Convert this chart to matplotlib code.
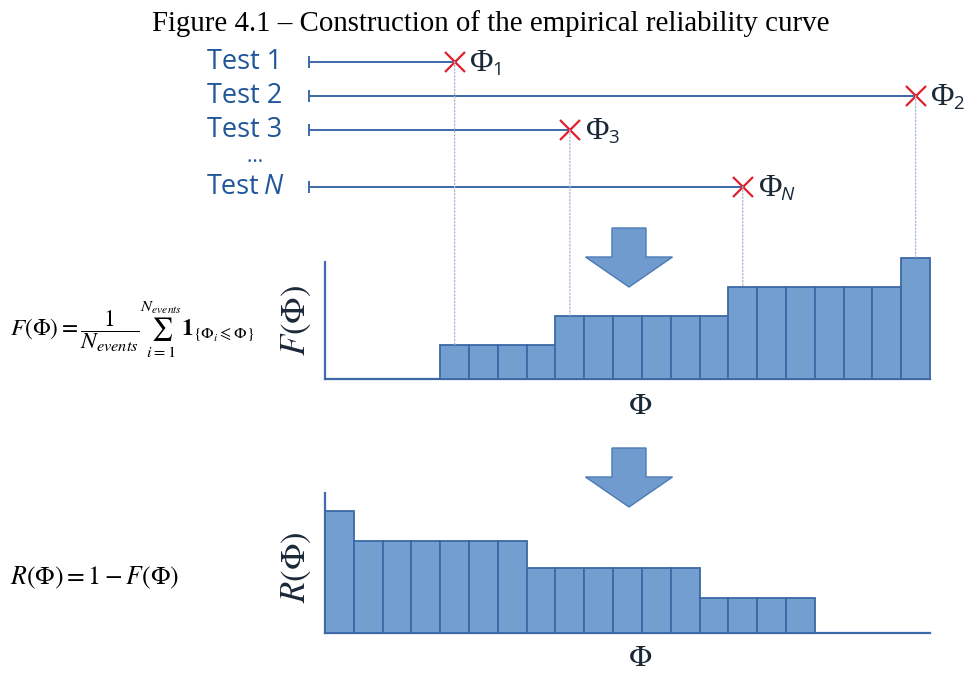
import matplotlib
matplotlib.use("Agg")
import matplotlib.pyplot as plt
from matplotlib.patches import FancyArrow, ConnectionPatch

plt.rcParams['mathtext.fontset'] = 'stix'

# ---- data -------------------------------------------------------------
test_labels = ["Test 1", "Test 2", "Test 3", "Test N"]
phi_subscripts = ["1", "2", "3", "N"]
phi_events = [4.5, 20.5, 8.5, 14.5]          # failure point of each test (bin units)
phi_levels = [0.28, 1.0, 0.52, 0.76]         # F value reached at each failure point

F_values = [0.0] * 4 + [0.28] * 4 + [0.52] * 6 + [0.76] * 6 + [1.0] * 1
R_values = [1.0] * 1 + [0.76] * 6 + [0.53] * 6 + [0.29] * 4 + [0.0] * 4

# ---- style ------------------------------------------------------------
W, H = 971, 673
BAR_FACE = "#729FCF"
BAR_EDGE = "#3C68A6"
AXIS_COL = "#3F6DB0"
TEXT_BLUE = "#1F5699"
LINE_BLUE = "#3E68A8"
CROSS_RED = "#E0202E"
DARK = "#1B2838"

fig = plt.figure(figsize=(W / 100, H / 100), dpi=100)


def px_axes(left, top, right, bottom):
    return fig.add_axes([left / W, 1 - bottom / H, (right - left) / W, (bottom - top) / H])


# overlay in pixel coordinates for annotations and arrows
ov = fig.add_axes([0, 0, 1, 1], zorder=0)
ov.set_xlim(0, W)
ov.set_ylim(H, 0)
ov.axis("off")


def draw_bars(ax, values, ytop):
    n = len(values)
    ax.bar(range(n), values, width=1.0, align="edge", color=BAR_FACE,
           edgecolor=BAR_EDGE, linewidth=1.3, clip_on=False, zorder=3)
    ax.set_xlim(0, n)
    ax.set_ylim(0, ytop)
    for s in ("top", "right"):
        ax.spines[s].set_visible(False)
    for s in ("left", "bottom"):
        ax.spines[s].set_color(AXIS_COL)
        ax.spines[s].set_linewidth(1.6)
    ax.set_xticks([])
    ax.set_yticks([])
    ax.patch.set_alpha(0)


# F(Phi) staircase
axF = px_axes(325, 262, 930, 379)
draw_bars(axF, F_values, 117 / 121)

# R(Phi) staircase
axR = px_axes(325, 493, 930, 633)
draw_bars(axR, R_values, 140 / 121.7)

# test timelines share the Phi scale of the F axes
axT = px_axes(325, 40, 930, 200)
axT.set_xlim(0, len(F_values))
axT.set_ylim(200, 40)
axT.axis("off")
axT.patch.set_alpha(0)

row_y = [61.7, 96.0, 130.0, 186.7]
x_start = -0.55
for lab, sub, phi, lvl, y in zip(test_labels, phi_subscripts, phi_events, phi_levels, row_y):
    axT.plot([x_start, phi], [y, y], color=LINE_BLUE, lw=1.4, clip_on=False, zorder=2)
    axT.plot([x_start], [y], marker="|", ms=8, mew=1.4, color=LINE_BLUE, clip_on=False, zorder=2)
    # dotted guide down to the step in F
    con = ConnectionPatch(xyA=(phi, y), coordsA=axT.transData,
                          xyB=(phi, lvl), coordsB=axF.transData,
                          color="#A9BDD6", lw=1.0, linestyle=(0, (1, 1.5)), zorder=1)
    fig.add_artist(con)
    axT.plot([phi], [y], marker="x", ms=14, mew=1.6, color=CROSS_RED, clip_on=False, zorder=4)
    t = axT.text(phi + 0.55, y + 1.8, "\u03A6", fontsize=23, family="Liberation Serif",
                 color=DARK, ha="left", va="center", clip_on=False)
    axT.annotate(sub, xy=(1.0, 0.0), xycoords=t, xytext=(-1.0, -0.5), textcoords="offset points",
                 fontsize=13.5, family="Open Sans", color=DARK, ha="left", va="bottom",
                 style="italic" if sub == "N" else "normal", annotation_clip=False)

    # row label on the left
    if lab.endswith("N"):
        ov.text(207, y, "Test", fontsize=19.5, family="Open Sans", color=TEXT_BLUE,
                ha="left", va="center")
        ov.text(264, y, "N", fontsize=19.5, family="Open Sans", style="italic",
                color=TEXT_BLUE, ha="left", va="center")
    else:
        ov.text(207, y, lab, fontsize=19.5, family="Open Sans", color=TEXT_BLUE,
                ha="left", va="center")

ov.text(255, 156, "\u2026", fontsize=15, family="Open Sans", color=TEXT_BLUE,
        ha="center", va="center")

# title
ov.text(491, 24, "Figure 4.1 \u2013 Construction of the empirical reliability curve",
        fontsize=20.8, family="Liberation Serif", color="black", ha="center", va="center")

# block arrows between stages
for y0 in (228, 448):
    ov.add_patch(FancyArrow(629, y0, 0, 59, width=34, head_width=87, head_length=30,
                            length_includes_head=True, facecolor="#6F9BCF",
                            edgecolor="#4D7AB5", lw=1.0, zorder=5))

# axis labels
ov.text(296, 320, r"$F(\Phi)$", fontsize=25, color=DARK, rotation=90,
        ha="center", va="center")
ov.text(296, 567, r"$R(\Phi)$", fontsize=25, color=DARK, rotation=90,
        ha="center", va="center")
ov.text(640, 405, r"$\Phi$", fontsize=22, color=DARK, ha="center", va="center")
ov.text(640, 657, r"$\Phi$", fontsize=22, color=DARK, ha="center", va="center")

# formulas
ov.text(10, 330,
        r"$F\left(\Phi\right)=\dfrac{1}{N_{events}}\sum_{i=1}^{N_{events}}\mathbf{1}_{\{\Phi_i\leqslant\Phi\}}$",
        fontsize=16.8, color="black", ha="left", va="center")
ov.text(10, 578, r"$R\left(\Phi\right)=1-F\left(\Phi\right)$",
        fontsize=18.5, color="black", ha="left", va="center")

fig.savefig("out.png", dpi=100)
